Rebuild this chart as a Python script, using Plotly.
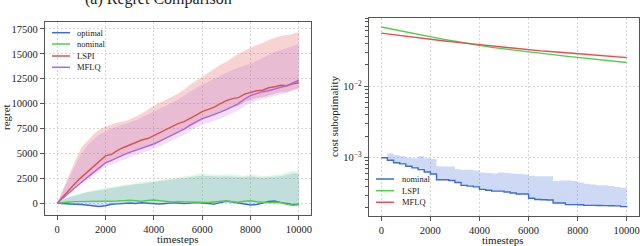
import plotly.graph_objects as go

# ---------------- data ----------------
steps = [0, 250, 500, 750, 1000, 1250, 1500, 1750, 2000, 2250, 2500, 2750, 3000, 3250, 3500, 3750,
         4000, 4250, 4500, 4750, 5000, 5250, 5500, 5750, 6000, 6250, 6500, 6750, 7000, 7250, 7500,
         7750, 8000, 8250, 8500, 8750, 9000, 9250, 9500, 9750, 10000]

# Left panel: regret
regret_optimal = [0, -50, -80, -100, -120, -180, -250, -330, -250, -100, -60, 0, 30, -20, 50, 0,
                  -30, -80, -20, 40, 20, -40, 10, 60, 20, -60, -90, 60, 200, 120, 40,
                  -80, -180, -120, 50, 180, 220, 60, -20, -150, -100]
regret_nominal = [0, 80, 130, 160, 170, 150, 130, 160, 190, 200, 230, 260, 300, 250, 200, 270,
                  320, 250, 150, 120, 160, 140, 90, 130, 110, 80, 130, 200, 250, 150, 100,
                  200, 250, 150, 100, 60, 100, 50, -100, -200, -150]
regret_lspi = [0, 700, 1350, 2000, 2600, 3150, 3650, 4200, 4750, 4900, 5300, 5600, 5850, 6100, 6350, 6500,
               6800, 7050, 7350, 7700, 8000, 8200, 8500, 8850, 9200, 9450, 9650, 10000, 10300, 10500, 10600,
               10950, 11100, 11300, 11350, 11600, 11700, 11850, 11800, 12000, 12100]
regret_mflq = [0, 550, 1100, 1600, 2100, 2600, 3100, 3550, 4050, 4300, 4600, 4850, 5100, 5300, 5550, 5750,
               5950, 6250, 6550, 6850, 7100, 7450, 7850, 8200, 8500, 8700, 8900, 9150, 9400, 9700, 10000,
               10450, 10800, 11000, 11200, 11300, 11500, 11650, 11800, 12100, 12350]

optimal_upper = [0, 350, 600, 800, 950, 1100, 1200, 1350, 1450, 1550, 1650, 1750, 1800, 1900, 1950, 2050,
                 2150, 2200, 2300, 2350, 2450, 2500, 2600, 2700, 2750, 2700, 2650, 2650, 2700, 2650, 2600,
                 2600, 2700, 2650, 2550, 2600, 2650, 2700, 2850, 3000, 2950]
nominal_upper = [0, 400, 650, 850, 1000, 1150, 1300, 1450, 1550, 1650, 1750, 1850, 1950, 2000, 2100, 2150,
                 2250, 2350, 2450, 2500, 2600, 2700, 2750, 2900, 3000, 2900, 2850, 2800, 2900, 2850, 2800,
                 2750, 2900, 2800, 2700, 2750, 2800, 2900, 3100, 3300, 3200]

lspi_upper = [0, 1500, 2800, 4300, 5600, 6300, 6900, 7400, 7700, 7900, 8100, 8200, 8400, 8700, 9000, 9400,
              9800, 10100, 10400, 10700, 11000, 11400, 11900, 12300, 12700, 13100, 13500, 13900, 14200, 14600, 15000,
              15300, 15600, 15900, 16100, 16400, 16600, 16800, 16900, 17000, 17200]
lspi_lower = [0, 600, 1150, 1700, 2250, 2700, 3150, 3600, 4050, 4250, 4600, 4850, 5100, 5300, 5550, 5700,
              5950, 6200, 6500, 6850, 7100, 7350, 7650, 8000, 8350, 8600, 8800, 9150, 9450, 9650, 9800,
              10150, 10350, 10550, 10650, 10850, 11000, 11150, 11150, 11350, 11450]
mflq_upper = [0, 1300, 2500, 3800, 5000, 5800, 6400, 6900, 7200, 7500, 7700, 7900, 8100, 8300, 8600, 8900,
              9200, 9500, 9800, 10100, 10400, 10800, 11200, 11600, 11900, 12200, 12500, 12800, 13100, 13400, 13600,
              13800, 14000, 14300, 14600, 14900, 15200, 15400, 15600, 15800, 16000]
mflq_lower = [0, 500, 1000, 1450, 1900, 2350, 2800, 3200, 3650, 3900, 4150, 4400, 4650, 4850, 5050, 5250,
              5450, 5700, 6000, 6300, 6550, 6850, 7250, 7600, 7850, 8050, 8250, 8500, 8750, 9050, 9350,
              9750, 10100, 10300, 10500, 10600, 10800, 10950, 11100, 11400, 11650]

# Right panel: cost suboptimality
cost_nominal = [0.001, 0.00092, 0.00085, 0.00082, 0.00076, 0.00072, 0.00068, 0.00063, 0.00059, 0.00049, 0.00049,
                0.00048, 0.00045, 0.00041, 0.0004, 0.00039, 0.00036, 0.00035, 0.00034, 0.00034, 0.00033, 0.00032,
                0.00031, 0.00031, 0.00027, 0.00026, 0.000257, 0.000255, 0.000232, 0.000232, 0.00022, 0.00022,
                0.000219, 0.000215, 0.000215, 0.000214, 0.000213, 0.000212, 0.000211, 0.000206, 0.000202]
cost_nominal_upper = [0.001, 0.00115, 0.00108, 0.00105, 0.001, 0.00098, 0.00105, 0.00098, 0.00096, 0.00076, 0.00075,
                      0.00075, 0.00069, 0.00068, 0.00068, 0.00066, 0.00062, 0.00061, 0.0006, 0.00062, 0.00061,
                      0.0006, 0.00059, 0.00058, 0.00056, 0.00055, 0.00055, 0.00055, 0.00047, 0.00048, 0.00048,
                      0.00047, 0.00045, 0.00043, 0.00042, 0.00041, 0.00041, 0.0004, 0.00039, 0.00038, 0.00036]

steps_coarse = [0, 500, 1000, 1500, 2000, 2500, 3000, 3500, 4000, 4500, 5000, 5500, 6000, 6500, 7000,
                7500, 8000, 8500, 9000, 9500, 10000]
cost_lspi = [0.0678, 0.0625, 0.0578, 0.0535, 0.0495, 0.046, 0.0428, 0.0398, 0.0372, 0.0352, 0.0335,
             0.0318, 0.0303, 0.029, 0.0278, 0.0265, 0.0254, 0.0243, 0.0233, 0.0224, 0.0216]
cost_mflq = [0.0557, 0.0528, 0.0502, 0.0478, 0.0455, 0.0436, 0.0417, 0.0399, 0.0383, 0.0367, 0.0352,
             0.0338, 0.0325, 0.0314, 0.0305, 0.0296, 0.0287, 0.0278, 0.027, 0.0261, 0.0253]
cost_mflq_upper = [0.0557, 0.0528, 0.0502, 0.0478, 0.0456, 0.0437, 0.0419, 0.0402, 0.0387, 0.0372, 0.0358,
                   0.0345, 0.0333, 0.0323, 0.0314, 0.0306, 0.0298, 0.029, 0.0283, 0.0275, 0.0268]

left_labels = ["optimal", "nominal", "LSPI", "MFLQ"]
right_labels = ["nominal", "LSPI", "MFLQ"]
x_ticks = [0, 2000, 4000, 6000, 8000, 10000]
x_ticktext = ["0", "2000", "4000", "6000", "8000", "10000"]
y_ticks_left = [0, 2500, 5000, 7500, 10000, 12500, 15000, 17500]
y_ticktext_left = ["0", "2500", "5000", "7500", "10000", "12500", "15000", "17500"]
y_ticks_right = [1e-3, 1e-2]
y_ticktext_right = ["10<sup>\u22123</sup>", "10<sup>\u22122</sup>"]
minor_right = [m * 10 ** e for e in (-4, -3, -2) for m in range(2, 10)]

# ---------------- style ----------------
BLUE = "#3d6cd6"
GREEN = "#4ccf4c"
RED = "#e05050"
PURPLE = "#b066d8"
FONT = "Liberation Serif"
W, H = 640, 246


def px(x):
    return x / W


def py(y):
    return 1 - y / H


def rgba(hexc, a):
    h = hexc.lstrip("#")
    return "rgba(%d,%d,%d,%.3f)" % (int(h[0:2], 16), int(h[2:4], 16), int(h[4:6], 16), a)


fig = go.Figure()


def band(x, lo, hi, color, a, xa, ya, shape="linear"):
    fig.add_trace(go.Scatter(x=x, y=lo, mode="lines", line=dict(width=0, shape=shape), hoverinfo="skip",
                             showlegend=False, xaxis=xa, yaxis=ya))
    fig.add_trace(go.Scatter(x=x, y=hi, mode="lines", line=dict(width=0, shape=shape), fill="tonexty",
                             fillcolor=rgba(color, a), hoverinfo="skip", showlegend=False,
                             xaxis=xa, yaxis=ya))


# left bands
band(steps, regret_optimal, optimal_upper, BLUE, 0.2, "x", "y")
band(steps, regret_nominal, nominal_upper, GREEN, 0.16, "x", "y")
band(steps, lspi_lower, lspi_upper, RED, 0.25, "x", "y")
band(steps, mflq_lower, mflq_upper, PURPLE, 0.2, "x", "y")
# left lines
for ys, c, n in [(regret_optimal, BLUE, "optimal"), (regret_nominal, GREEN, "nominal"),
                 (regret_lspi, RED, "LSPI"), (regret_mflq, PURPLE, "MFLQ")]:
    fig.add_trace(go.Scatter(x=steps, y=ys, mode="lines", line=dict(color=c, width=1.4),
                             name=n, showlegend=False, xaxis="x", yaxis="y"))

# right bands / lines
band(steps, cost_nominal, cost_nominal_upper, BLUE, 0.25, "x2", "y2", shape="hv")
band(steps_coarse, cost_mflq, cost_mflq_upper, RED, 0.15, "x2", "y2")
fig.add_trace(go.Scatter(x=steps, y=cost_nominal, mode="lines", line=dict(color=BLUE, width=1.4, shape="hv"),
                         showlegend=False, xaxis="x2", yaxis="y2"))
fig.add_trace(go.Scatter(x=steps_coarse, y=cost_lspi, mode="lines", line=dict(color=GREEN, width=1.4),
                         showlegend=False, xaxis="x2", yaxis="y2"))
fig.add_trace(go.Scatter(x=steps_coarse, y=cost_mflq, mode="lines", line=dict(color=RED, width=1.4),
                         showlegend=False, xaxis="x2", yaxis="y2"))

axis_common = dict(showline=True, mirror=True, linecolor="#555555", linewidth=1.4,
                   ticks="outside", ticklen=4, tickwidth=1, tickcolor="#555555",
                   showgrid=True, gridcolor="#d6d6d6", griddash="2px,2px", gridwidth=0.8,
                   zeroline=False, tickfont=dict(family=FONT, size=10.5, color="#222222"),
                   automargin=False)

fig.update_layout(
    width=W, height=H, margin=dict(l=0, r=0, t=0, b=0),
    paper_bgcolor="white", plot_bgcolor="white", showlegend=False,
    xaxis=dict(domain=[px(45), px(311)], range=[-500, 10500], tickvals=x_ticks, ticktext=x_ticktext,
               anchor="y", **axis_common),
    yaxis=dict(domain=[py(215), py(22)], range=[-1180, 18200], tickvals=y_ticks_left, ticktext=y_ticktext_left,
               anchor="x", **axis_common),
    xaxis2=dict(domain=[px(369), px(639)], range=[-500, 10500], tickvals=x_ticks, ticktext=x_ticktext,
                anchor="y2", **axis_common),
    yaxis2=dict(domain=[py(216), py(18)], type="log", range=[-3.817, -1.042], tickvals=y_ticks_right,
                ticktext=y_ticktext_right, anchor="x2",
                minor=dict(tickmode="array", tickvals=minor_right, ticks="outside", ticklen=2.5,
                           tickwidth=0.8, tickcolor="#555555", showgrid=False),
                **axis_common),
)

ann = []
shapes = []
# title (cut off at top, as in the reference)
ann.append(dict(text="(a) Regret Comparison", x=px(158), y=py(10), xref="paper", yref="paper",
                xanchor="center", yanchor="bottom", showarrow=False,
                font=dict(family=FONT, size=16, color="#222222")))
# axis titles
for t, x, y, ang in [("timesteps", 178, 239, 0), ("timesteps", 503, 240, 0),
                     ("regret", 6, 117, -90), ("cost suboptimality", 334, 117, -90)]:
    ann.append(dict(text=t, x=px(x), y=py(y), xref="paper", yref="paper", xanchor="center",
                    yanchor="middle", showarrow=False, textangle=ang,
                    font=dict(family=FONT, size=11, color="#222222")))


# legends
def legend(labels, colors, x0, x1, tx, ys):
    for lab, c, y in zip(labels, colors, ys):
        shapes.append(dict(type="line", xref="paper", yref="paper", x0=px(x0), x1=px(x1),
                           y0=py(y), y1=py(y), line=dict(color=c, width=1.5), layer="above"))
        ann.append(dict(text=lab, x=px(tx), y=py(y), xref="paper", yref="paper", xanchor="left",
                        yanchor="middle", showarrow=False,
                        font=dict(family=FONT, size=8.5, color="#222222")))


legend(left_labels, [BLUE, GREEN, RED, PURPLE], 52, 70, 75, [32.7, 44, 56, 67.3])
legend(right_labels, [BLUE, GREEN, RED], 376, 394, 400, [179, 190.7, 202.3])

fig.update_layout(annotations=ann, shapes=shapes)
fig.write_html("out.html", config={"displayModeBar": False},
               post_script="document.body.style.margin='0';document.body.style.overflow='hidden';")
